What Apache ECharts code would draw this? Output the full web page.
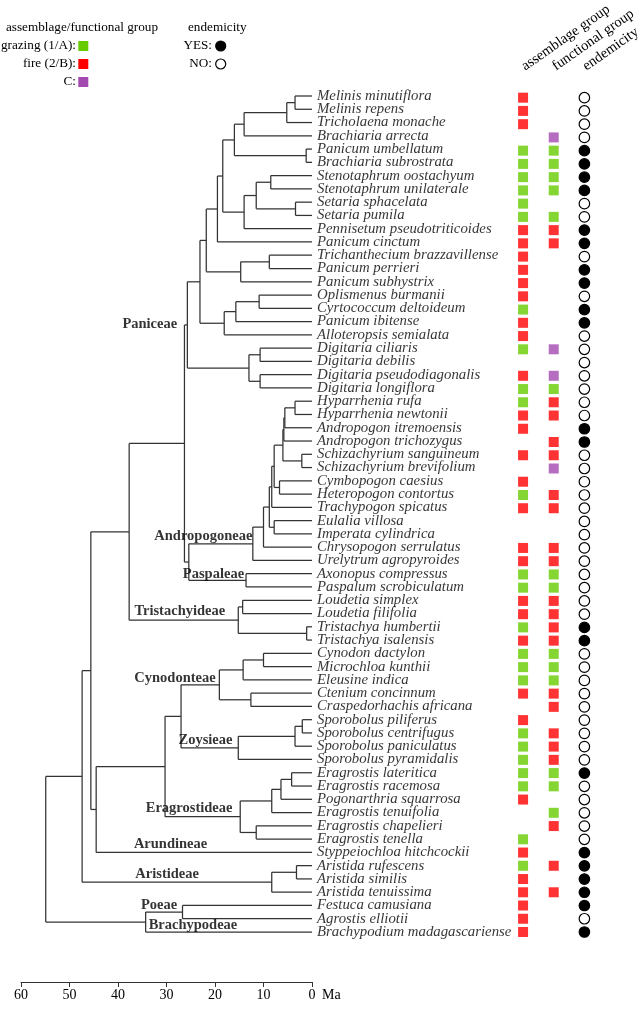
<!DOCTYPE html>
<html>
<head>
<meta charset="utf-8">
<script src="https://cdn.jsdelivr.net/npm/echarts@6/dist/echarts.min.js"></script>
<style>html,body{margin:0;padding:0;background:#fff}#chart{width:642px;height:1011px}</style>
</head>
<body>
<div id="chart"></div>
<script>
// ---------- DATA ----------
const species = [
  'Melinis minutiflora','Melinis repens','Tricholaena monache','Brachiaria arrecta',
  'Panicum umbellatum','Brachiaria subrostrata','Stenotaphrum oostachyum','Stenotaphrum unilaterale',
  'Setaria sphacelata','Setaria pumila','Pennisetum pseudotriticoides','Panicum cinctum',
  'Trichanthecium brazzavillense','Panicum perrieri','Panicum subhystrix','Oplismenus burmanii',
  'Cyrtococcum deltoideum','Panicum ibitense','Alloteropsis semialata','Digitaria ciliaris',
  'Digitaria debilis','Digitaria pseudodiagonalis','Digitaria longiflora','Hyparrhenia rufa',
  'Hyparrhenia newtonii','Andropogon itremoensis','Andropogon trichozygus','Schizachyrium sanguineum',
  'Schizachyrium brevifolium','Cymbopogon caesius','Heteropogon contortus','Trachypogon spicatus',
  'Eulalia villosa','Imperata cylindrica','Chrysopogon serrulatus','Urelytrum agropyroides',
  'Axonopus compressus','Paspalum scrobiculatum','Loudetia simplex','Loudetia filifolia',
  'Tristachya humbertii','Tristachya isalensis','Cynodon dactylon','Microchloa kunthii',
  'Eleusine indica','Ctenium concinnum','Craspedorhachis africana','Sporobolus piliferus',
  'Sporobolus centrifugus','Sporobolus paniculatus','Sporobolus pyramidalis','Eragrostis lateritica',
  'Eragrostis racemosa','Pogonarthria squarrosa','Eragrostis tenuifolia','Eragrostis chapelieri',
  'Eragrostis tenella','Styppeiochloa hitchcockii','Aristida rufescens','Aristida similis',
  'Aristida tenuissima','Festuca camusiana','Agrostis elliotii','Brachypodium madagascariense'
];
// assemblage group: 1 = grazing, 2 = fire, null = none
const assemblage = [
  2,2,2,null,1,1,1,1,1,1,2,2,2,2,2,2,1,2,2,1,null,2,1,1,2,2,null,2,null,2,1,2,
  null,null,2,2,1,1,2,2,1,2,1,1,1,2,null,2,1,1,1,1,1,2,null,null,1,2,1,2,2,2,2,2
];
// functional group: A = grazing, B = fire, C, null = none
const functional = [
  null,null,null,'C','A','A','A','A',null,'A','B','B',null,null,null,null,null,null,null,'C',null,'C','A','B',
  'B',null,'B','B','C',null,'B','B',null,null,'B','B','A','A','B','B','B','B','A','A','A','B',
  'B',null,'B','B','B','A','A',null,'A','B',null,null,'B',null,'B',null,null,null
];
// endemicity: 1 = yes, 0 = no
const endemic = [
  0,0,0,0,1,1,1,1,0,0,1,1,0,1,1,0,1,1,0,0,0,0,0,0,0,1,1,0,0,0,0,0,
  0,0,0,0,0,0,0,0,1,1,0,0,0,0,0,0,0,0,0,1,0,0,0,0,0,1,1,1,1,1,0,1
];
// tree: [node id, child A, child B, node age (Ma)]; numeric child = species index
const treeNodes = [
  ['n1',0,1,3.5],['n2','n1',2,5.2],['n3','n2',3,14.0],['n4',4,5,1.2],['n5','n3','n4',16.0],
  ['n6',6,7,8.5],['n7',8,9,3.4],['n8','n6','n7',11.5],['n9','n8',10,14.0],['n10','n5','n9',18.4],
  ['n11','n10',11,19.5],['n12',12,13,8.8],['n13','n12',14,14.7],['n14','n11','n13',21.8],
  ['n15',15,16,10.9],['n16','n15',17,15.7],['n17','n16',18,18.1],['n18','n14','n17',23.1],
  ['n20',19,20,10.7],['n21',21,22,10.7],['n22','n20','n21',13.0],['n19','n18','n22',25.7],
  ['a1',23,24,3.5],['a2','a1',25,5.6],['a3','a2',26,5.8],['a5',27,28,2.1],['a4','a3','a5',6.0],
  ['a6',29,30,6.7],['a7','a4','a6',7.8],['a8','a7',31,8.3],['a9',32,33,7.8],['a10','a8','a9',8.8],
  ['a11','a10',34,10.0],['a12','a11',35,12.2],['p1',36,37,13.6],['ap','a12','p1',25.4],
  ['pap','n19','ap',26.3],['t1',38,39,14.3],['t3',40,41,1.1],['t4','t1','t3',15.2],
  ['tap','pap','t4',37.7],['c1',42,43,10.0],['c2','c1',44,14.2],['c3',45,46,12.6],['c4','c2','c3',19.1],
  ['z1',47,48,2.0],['z2','z1',49,3.5],['z3','z2',50,15.2],['cz','c4','z3',27.0],
  ['e1',51,52,4.2],['e2','e1',53,6.4],['e3','e2',54,8.3],['e4',55,56,11.5],['e5','e3','e4',14.8],
  ['chl','cz','e5',30.3],['arc','chl',57,44.5],['pac','tap','arc',45.6],
  ['ar1',58,59,3.2],['ar2','ar1',60,8.3],['pacmad','pac','ar2',47.4],
  ['po1',61,62,26.7],['po2','po1',63,34.3],['root','pacmad','po2',54.9]
];
const cladeNames = ['Paniceae','Andropogoneae','Paspaleae','Tristachyideae','Cynodonteae','Zoysieae',
  'Eragrostideae','Arundineae','Aristideae','Poeae','Brachypodeae'];
const columnNames = ['assemblage group','functional group','endemicity'];
const ageTicks = [0, 60, 10]; // min, max, step (Ma)

// ---------- LAYOUT / STYLE ----------
// label anchor (right end / middle) in axis coordinates [Ma, row]
const cladeLabelAt = {
  'Paniceae':[27.6,18.18],'Andropogoneae':[12.1,34.16],'Paspaleae':[13.8,37.02],
  'Tristachyideae':[17.7,39.86],'Cynodonteae':[19.65,44.88],'Zoysieae':[16.2,49.58],
  'Eragrostideae':[16.2,54.68],'Arundineae':[21.4,57.39],'Aristideae':[23.1,59.65],
  'Poeae':[27.6,61.96],'Brachypodeae':[15.2,63.47]
};
const GREEN = '#66cc00', RED = '#ff0000', PURPLE = '#a349b0';
const SERIF = '"Liberation Serif", "DejaVu Serif", serif';
const colorOfAssemblage = {1: GREEN, 2: RED};
const colorOfFunctional = {A: GREEN, B: RED, C: PURPLE};

// ---------- TREE GEOMETRY (in data space) ----------
const nodeMap = {};
treeNodes.forEach(([id,a,b,age]) => { nodeMap[id] = {a,b,age,y:null}; });
function yOf(ref){
  if (typeof ref === 'number') return ref + 1;
  const n = nodeMap[ref];
  if (n.y === null) n.y = (yOf(n.a) + yOf(n.b)) / 2;
  return n.y;
}
function ageOf(ref){ return typeof ref === 'number' ? 0 : nodeMap[ref].age; }
const segments = [];
treeNodes.forEach(([id,a,b,age]) => {
  segments.push([age, yOf(a), age, yOf(b)]);
  [a,b].forEach(c => segments.push([age, yOf(c), ageOf(c), yOf(c)]));
});

const nRows = species.length;
const chart = echarts.init(document.getElementById('chart'), null, {renderer:'canvas'});
const TRANSPARENT = 'rgba(0,0,0,0)';

const option = {
  animation: false,
  backgroundColor: '#fff',
  grid: [
    {left: 21, right: 330, top: 96, bottom: 79},
    {left: 507.75, width: 103.5, top: 96, bottom: 79}
  ],
  xAxis: [
    {
      gridIndex: 0, type: 'value', min: ageTicks[0], max: ageTicks[1], interval: ageTicks[2], inverse: true,
      offset: 50,
      axisLine: {show: true, lineStyle: {color: '#333', width: 1}},
      axisTick: {show: true, length: 5, lineStyle: {color: '#333'}},
      axisLabel: {color: '#000', fontSize: 14, fontFamily: SERIF, margin: 6},
      splitLine: {show: false},
      name: 'Ma', nameLocation: 'start', nameGap: 10,
      nameTextStyle: {color: '#000', fontSize: 14, fontFamily: SERIF, verticalAlign: 'top', padding: [6,0,0,0]}
    },
    {
      gridIndex: 1, type: 'category', data: columnNames, position: 'top',
      axisLine: {show: false}, axisTick: {show: false}, splitLine: {show: false},
      axisLabel: {color: '#000', fontSize: 14.5, fontFamily: SERIF, rotate: -35, margin: 30, interval: 0}
    }
  ],
  yAxis: [
    {gridIndex: 0, type: 'value', min: 1, max: nRows, inverse: true, show: false},
    {gridIndex: 1, type: 'value', min: 1, max: nRows, inverse: true, show: false}
  ],
  graphic: [
    {type:'text', x: 6, y: 28, style:{text:'assemblage/functional group', font:'13.2px ' + SERIF, fill:'#000', align:'left', verticalAlign:'middle'}},
    {type:'text', x: 76, y: 46, style:{text:'grazing (1/A):', font:'13.2px ' + SERIF, fill:'#000', align:'right', verticalAlign:'middle'}},
    {type:'text', x: 76, y: 64, style:{text:'fire (2/B):', font:'13.2px ' + SERIF, fill:'#000', align:'right', verticalAlign:'middle'}},
    {type:'text', x: 76, y: 82, style:{text:'C:', font:'13.2px ' + SERIF, fill:'#000', align:'right', verticalAlign:'middle'}},
    {type:'rect', shape:{x:78.3, y:41, width:10, height:10}, style:{fill: GREEN}},
    {type:'rect', shape:{x:78.3, y:59, width:10, height:10}, style:{fill: RED}},
    {type:'rect', shape:{x:78.3, y:77, width:10, height:10}, style:{fill: PURPLE}},
    {type:'text', x: 188, y: 28, style:{text:'endemicity', font:'13.2px ' + SERIF, fill:'#000', align:'left', verticalAlign:'middle'}},
    {type:'text', x: 212, y: 46, style:{text:'YES:', font:'13.2px ' + SERIF, fill:'#000', align:'right', verticalAlign:'middle'}},
    {type:'text', x: 212, y: 64, style:{text:'NO:', font:'13.2px ' + SERIF, fill:'#000', align:'right', verticalAlign:'middle'}},
    {type:'circle', shape:{cx:220.7, cy:46, r:5}, style:{fill:'#000', stroke:'#000', lineWidth:1.2}},
    {type:'circle', shape:{cx:220.7, cy:64, r:5}, style:{fill:'#fff', stroke:'#000', lineWidth:1.2}}
  ],
  series: [
    {
      type: 'custom', xAxisIndex: 0, yAxisIndex: 0, data: segments,
      encode: {x: [0, 2], y: [1, 3]}, clip: false,
      renderItem: function (params, api) {
        const p1 = api.coord([api.value(0), api.value(1)]);
        const p2 = api.coord([api.value(2), api.value(3)]);
        return {type: 'line', shape: {x1: p1[0], y1: p1[1], x2: p2[0], y2: p2[1]},
          style: {stroke: '#333', lineWidth: 1.25}};
      }
    },
    {
      type: 'scatter', xAxisIndex: 0, yAxisIndex: 0, symbolSize: 2, itemStyle: {color: TRANSPARENT},
      data: species.map((s, i) => [0, i + 1, s]),
      label: {show: true, position: 'right', distance: 4, formatter: p => p.data[2],
        color: '#000', fontSize: 14.8, fontStyle: 'italic', fontFamily: SERIF},
      labelLayout: {hideOverlap: false},
      silent: true, z: 5
    },
    {
      type: 'scatter', xAxisIndex: 0, yAxisIndex: 0, symbolSize: 2, itemStyle: {color: TRANSPARENT},
      data: cladeNames.map(n => [cladeLabelAt[n][0], cladeLabelAt[n][1], n]),
      label: {show: true, position: 'left', distance: 0, formatter: p => p.data[2],
        color: '#000', fontSize: 14.5, fontWeight: 'bold', fontFamily: SERIF},
      labelLayout: {hideOverlap: false},
      silent: true, z: 5
    },
    {
      type: 'scatter', xAxisIndex: 1, yAxisIndex: 1, symbol: 'rect', symbolSize: 10,
      data: assemblage.map((v, i) => v === null ? null : [0, i + 1, v]).filter(d => d),
      itemStyle: {color: p => colorOfAssemblage[p.data[2]]}
    },
    {
      type: 'scatter', xAxisIndex: 1, yAxisIndex: 1, symbol: 'rect', symbolSize: 10,
      data: functional.map((v, i) => v === null ? null : [1, i + 1, v]).filter(d => d),
      itemStyle: {color: p => colorOfFunctional[p.data[2]]}
    },
    {
      type: 'scatter', xAxisIndex: 1, yAxisIndex: 1, symbol: 'circle', symbolSize: 10.5,
      data: endemic.map((v, i) => [2, i + 1, v]),
      itemStyle: {color: p => p.data[2] ? '#000' : '#fff', borderColor: '#000', borderWidth: 1.2, opacity: 1}
    }
  ]
};
chart.setOption(option);
</script>
</body>
</html>
